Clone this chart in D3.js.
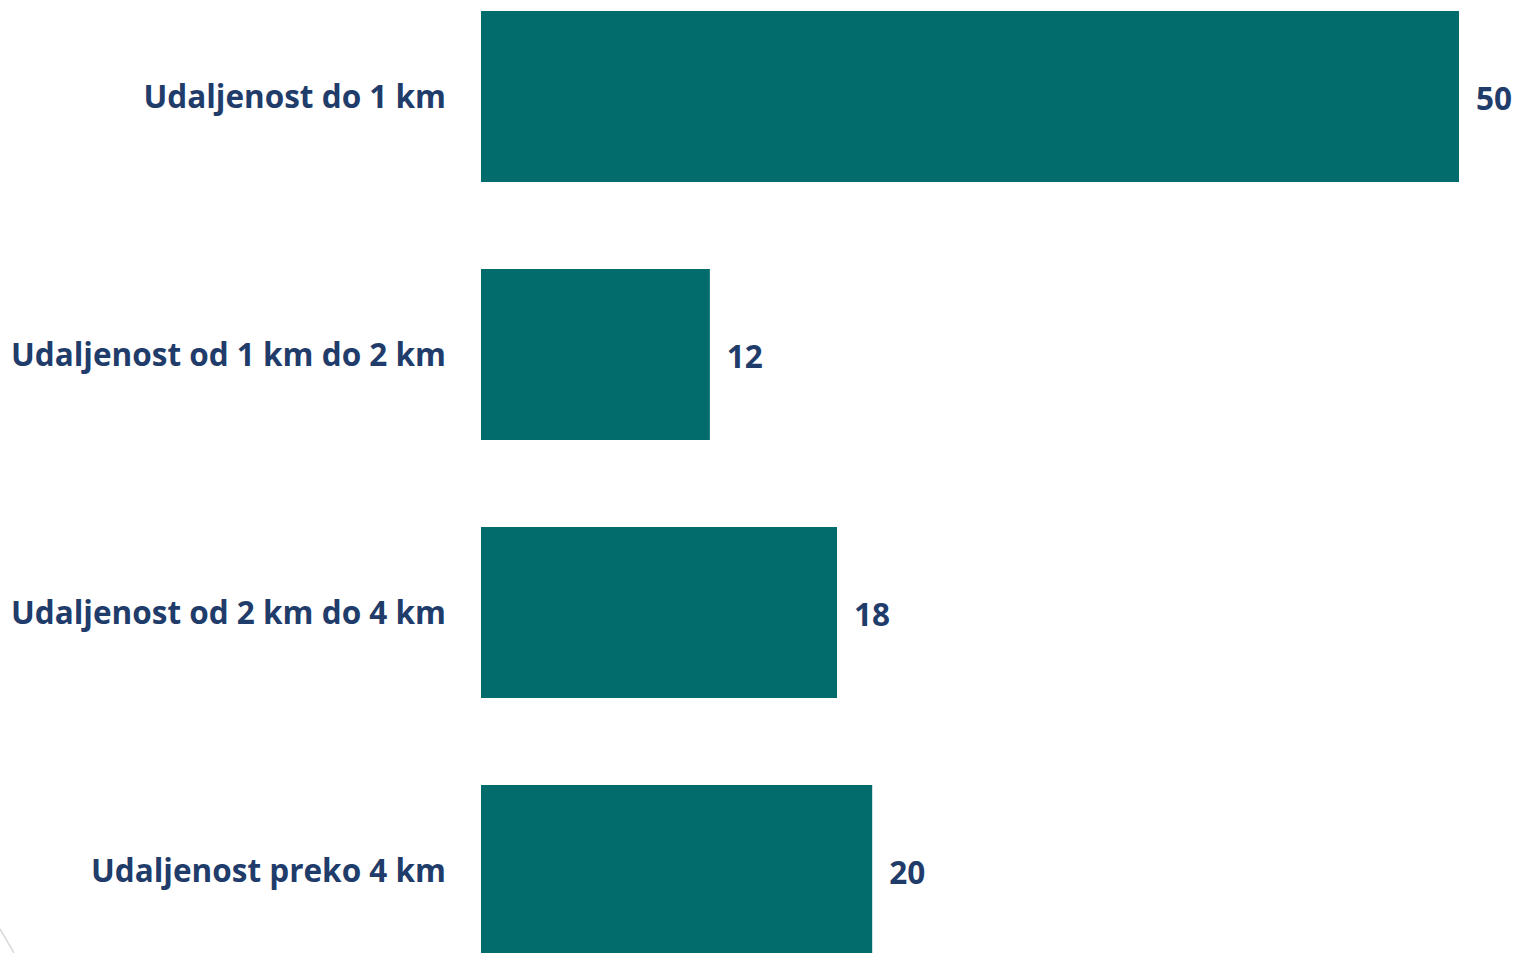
<!DOCTYPE html>
<html>
<head>
<meta charset="utf-8">
<script src="https://cdn.jsdelivr.net/npm/d3@7"></script>
<style>
  html, body { margin: 0; padding: 0; background: #ffffff; overflow: hidden; }
  svg { display: block; }
  text { font-family: "Open Sans", Lato, sans-serif; font-weight: 700; }
</style>
</head>
<body>
<svg id="chart" width="1515" height="953"></svg>
<script>
const categories = [
  "Udaljenost do 1 km",
  "Udaljenost od 1 km do 2 km",
  "Udaljenost od 2 km do 4 km",
  "Udaljenost preko 4 km"
];
const values = [50, 11.7, 18.2, 20];
const valueLabels = ["50", "12", "18", "20"];

const W = 1515, H = 953;
const svg = d3.select("#chart");

const barColor = "#026B6C";
const textColor = "#1F3C6A";

const x0 = 481;
const x = d3.scaleLinear().domain([0, 50]).range([x0, 1459]);

const step = 258, gap = 87;
const yStart = 11 - gap / 2;
const y = d3.scaleBand()
  .domain(categories)
  .range([yStart, yStart + step * categories.length])
  .paddingInner(gap / step)
  .paddingOuter(gap / step / 2);

// decorative line bottom-left
svg.append("line")
  .attr("x1", 0).attr("y1", 929)
  .attr("x2", 14).attr("y2", 953)
  .attr("stroke", "#d9d9d9").attr("stroke-width", 1.5);

svg.selectAll("rect.bar")
  .data(categories)
  .join("rect")
  .attr("class", "bar")
  .attr("x", x(0))
  .attr("y", d => y(d))
  .attr("width", (d, i) => x(values[i]) - x(0))
  .attr("height", y.bandwidth())
  .attr("fill", barColor);

// category labels
const fs = 31.5;
svg.selectAll("text.cat")
  .data(categories)
  .join("text")
  .attr("class", "cat")
  .attr("x", 446)
  .attr("y", d => y(d) + y.bandwidth() / 2)
  .attr("dy", "0.35em")
  .attr("text-anchor", "end")
  .attr("fill", textColor)
  .attr("font-size", fs)
  .text(d => d);

svg.selectAll("text.val")
  .data(categories)
  .join("text")
  .attr("class", "val")
  .attr("x", (d, i) => x(values[i]) + 17)
  .attr("y", d => y(d) + y.bandwidth() / 2 + 2)
  .attr("dy", "0.35em")
  .attr("fill", textColor)
  .attr("font-size", fs)
  .text((d, i) => valueLabels[i]);
</script>
</body>
</html>
